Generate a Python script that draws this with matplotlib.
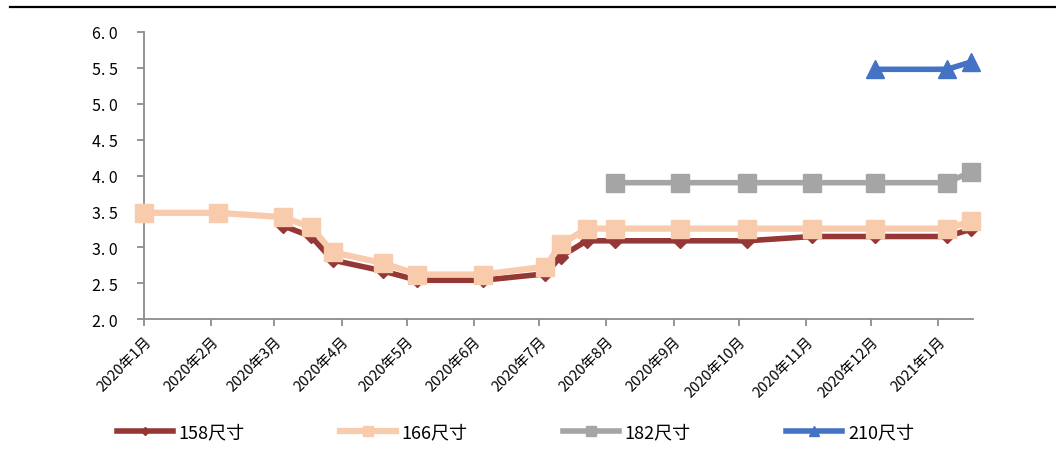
import matplotlib
matplotlib.use("Agg")
import matplotlib.pyplot as plt
import matplotlib.dates as mdates
from matplotlib.lines import Line2D
import numpy as np
import pandas as pd

plt.rcParams['font.family'] = ['Noto Sans CJK SC', 'DejaVu Sans']

nan = np.nan
dates = pd.to_datetime([
    "2020-01-01", "2020-02-04", "2020-03-05", "2020-03-18", "2020-03-28",
    "2020-04-20", "2020-05-06", "2020-06-05", "2020-07-04", "2020-07-11",
    "2020-07-23", "2020-08-05", "2020-09-04", "2020-10-05", "2020-11-04",
    "2020-12-03", "2021-01-05", "2021-01-16",
])
s158 = [nan, nan, 3.30, 3.15, 2.82, 2.67, 2.54, 2.54, 2.63, 2.87,
        3.09, 3.09, 3.09, 3.09, 3.15, 3.15, 3.15, 3.25]
s166 = [3.48, 3.48, 3.42, 3.28, 2.93, 2.78, 2.62, 2.62, 2.73, 3.04,
        3.26, 3.26, 3.26, 3.26, 3.26, 3.26, 3.26, 3.36]
s182 = [nan] * 11 + [3.90, 3.90, 3.90, 3.90, 3.90, 3.90, 4.05]
s210 = [nan] * 15 + [5.48, 5.48, 5.58]

yticks = [2.0, 2.5, 3.0, 3.5, 4.0, 4.5, 5.0, 5.5, 6.0]
ytick_labels = ["2. 0", "2. 5", "3. 0", "3. 5", "4. 0", "4. 5", "5. 0", "5. 5", "6. 0"]

fig = plt.figure(figsize=(10.56, 4.6), dpi=100)
ax = fig.add_axes([0.1364, 0.3043, 0.785, 0.624])

ax.plot(dates, s158, '-', color='#953735', lw=4, marker='D', ms=7,
        label='158尺寸', zorder=3)
ax.plot(dates, s166, '-', color='#F8CBAD', lw=4.5, marker='s', ms=13,
        label='166尺寸', zorder=4)
ax.plot(dates, s182, '-', color='#A5A5A5', lw=4, marker='s', ms=13,
        label='182尺寸', zorder=4)
ax.plot(dates, s210, '-', color='#4472C4', lw=4, marker='^', ms=13,
        label='210尺寸', zorder=4)

ax.set_xlim(pd.Timestamp("2020-01-01"), pd.Timestamp("2021-01-17"))
ax.set_ylim(2.0, 6.0)
ax.set_yticks(yticks)
ax.set_yticklabels(ytick_labels, fontsize=11.5)

ax.xaxis.set_major_locator(mdates.MonthLocator())
ax.xaxis.set_major_formatter(
    plt.FuncFormatter(lambda v, p: mdates.num2date(v).strftime('%Y年') +
                      str(mdates.num2date(v).month) + '月'))
ax.tick_params(axis='y', length=5, width=1.3, color='#8C8C8C', pad=14)
ax.tick_params(axis='x', length=5, width=1.3, color='#8C8C8C', pad=6, labelsize=10.5)
plt.setp(ax.get_xticklabels(), rotation=45, ha='right', rotation_mode='anchor')

for side in ['top', 'right']:
    ax.spines[side].set_visible(False)
for side in ['left', 'bottom']:
    ax.spines[side].set_color('#8C8C8C')
    ax.spines[side].set_linewidth(1.3)
for ln in ax.lines:
    ln.set_clip_on(False)

ax.legend(loc='center', bbox_to_anchor=(0.448, -0.394), ncol=4, frameon=False,
          fontsize=13, handlelength=3.1, handletextpad=0.3, columnspacing=5.3,
          markerscale=0.55)

fig.add_artist(Line2D([0.009, 1.0], [0.9826, 0.9826], color='black', lw=1.6,
                      transform=fig.transFigure))

fig.savefig('out.png', dpi=100)
